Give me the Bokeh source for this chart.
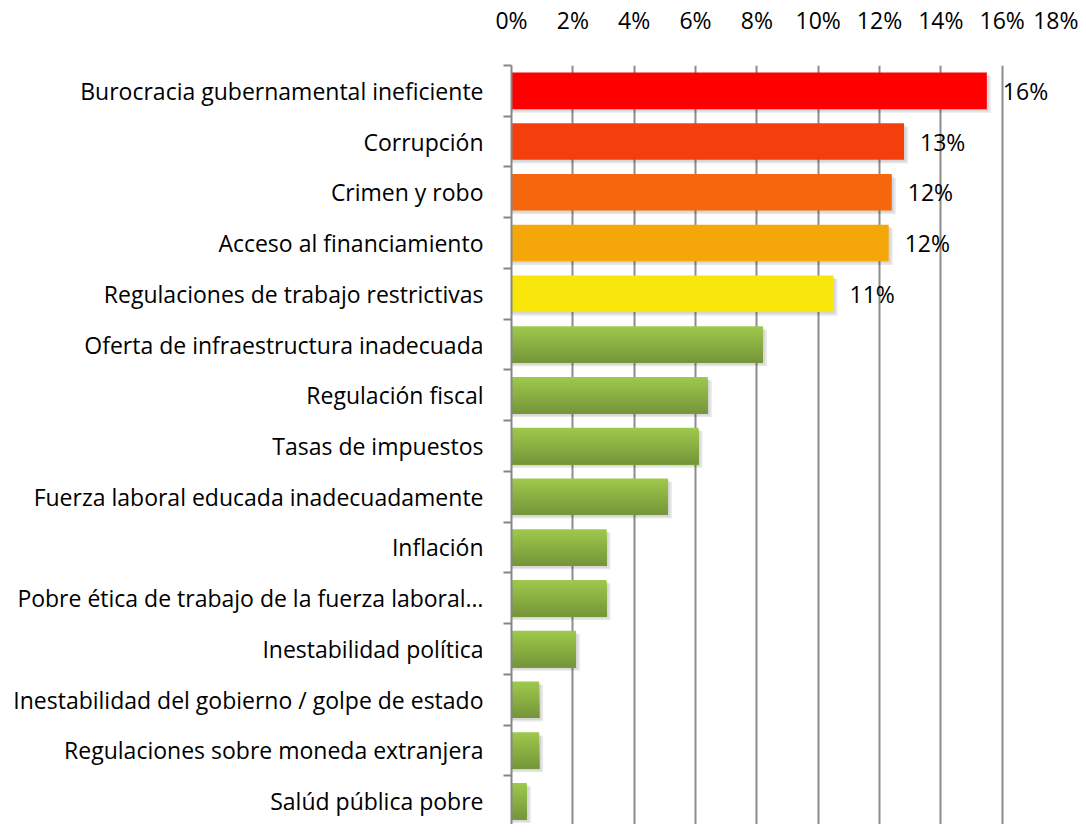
from bokeh.plotting import figure
from bokeh.models import Range1d, FixedTicker, NumeralTickFormatter, ColumnDataSource
from bokeh.embed import file_html
from bokeh.resources import INLINE
from bokeh.core.properties import value

categories = [
    "Burocracia gubernamental ineficiente",
    "Corrupción",
    "Crimen y robo",
    "Acceso al financiamiento",
    "Regulaciones de trabajo restrictivas",
    "Oferta de infraestructura inadecuada",
    "Regulación fiscal",
    "Tasas de impuestos",
    "Fuerza laboral educada inadecuadamente",
    "Inflación",
    "Pobre ética de trabajo de la fuerza laboral…",
    "Inestabilidad política",
    "Inestabilidad del gobierno / golpe de estado",
    "Regulaciones sobre moneda extranjera",
    "Salúd pública pobre",
]
values = [0.155, 0.128, 0.124, 0.123, 0.105, 0.082, 0.064, 0.061, 0.051,
          0.031, 0.031, 0.021, 0.009, 0.009, 0.005]
value_labels = ["16%", "13%", "12%", "12%", "11%"]
top_colors = ["#FF0000", "#F43F0D", "#F5660D", "#F5A70A", "#F8E60B"]
x_ticks = [0.0, 0.02, 0.04, 0.06, 0.08, 0.10, 0.12, 0.14, 0.16, 0.18]

FONT = "Open Sans"
FS = "23px"
n = len(categories)
ys = list(range(n))
BAR_H = 0.72

p = figure(width=1078, height=824, output_backend="svg", toolbar_location=None,
           x_axis_location="above",
           x_range=Range1d(0, 0.18), y_range=Range1d(n - 0.54, -0.5),
           min_border_left=511, min_border_right=15, min_border_top=55,
           min_border_bottom=0)
p.outline_line_color = None
p.background_fill_color = "white"

# shadows
p.hbar(y=[y + 0.07 for y in ys], left=0, right=[v + 0.0013 for v in values],
       height=BAR_H, fill_color="black", fill_alpha=0.09, line_color=None)
p.hbar(y=[y + 0.04 for y in ys], left=0, right=[v + 0.0007 for v in values],
       height=BAR_H, fill_color="black", fill_alpha=0.07, line_color=None)

# solid top bars
k = len(top_colors)
p.hbar(y=ys[:k], left=0, right=values[:k], height=BAR_H,
       fill_color=top_colors, line_color=None)

# gradient green bars (layers, each reaching the bar bottom)
def lerp(c1, c2, t):
    a = [int(c1[i:i + 2], 16) for i in (1, 3, 5)]
    b = [int(c2[i:i + 2], 16) for i in (1, 3, 5)]
    return "#%02x%02x%02x" % tuple(round(a[j] + (b[j] - a[j]) * t) for j in range(3))

N = 18
top_c, bot_c = "#9DC84B", "#76963A"
for s in range(N):
    t = s / (N - 1)
    top = -BAR_H / 2 + BAR_H * s / N
    bot = BAR_H / 2
    p.hbar(y=[y + (top + bot) / 2 for y in ys[k:]], left=0, right=values[k:],
           height=bot - top, fill_color=lerp(top_c, bot_c, t), line_color=None)

# value labels
src = ColumnDataSource(dict(x=values[:k], y=ys[:k], t=value_labels))
p.text(x="x", y="y", text="t", source=src, x_offset=16, text_align="left",
       text_baseline="middle", text_font=value(FONT), text_font_size=FS,
       text_color="#000000")

# x axis (top)
xa = p.xaxis[0]
xa.ticker = FixedTicker(ticks=x_ticks)
xa.formatter = NumeralTickFormatter(format="0%")
xa.axis_line_color = None
xa.major_tick_line_color = None
xa.minor_tick_line_color = None
xa.major_label_text_font = FONT
xa.major_label_text_font_size = FS
xa.major_label_text_color = "#000000"
xa.major_label_standoff = 24

# y axis
ya = p.yaxis[0]
ya.ticker = FixedTicker(ticks=ys, minor_ticks=[y - 0.5 for y in range(n + 1)])
ya.major_label_overrides = {y: c for y, c in zip(ys, categories)}
ya.major_tick_out = 0
ya.major_tick_in = 0
ya.minor_tick_out = 8
ya.minor_tick_in = 0
ya.minor_tick_line_color = "#868686"
ya.minor_tick_line_width = 2
ya.axis_line_color = "#868686"
ya.axis_line_width = 2
ya.major_label_text_font = FONT
ya.major_label_text_font_size = FS
ya.major_label_text_color = "#000000"
ya.major_label_standoff = 20

p.xgrid.grid_line_color = "#8C8C8C"
p.xgrid.grid_line_width = 2
p.ygrid.grid_line_color = None

open("out.html", "w").write(file_html(p, INLINE))
